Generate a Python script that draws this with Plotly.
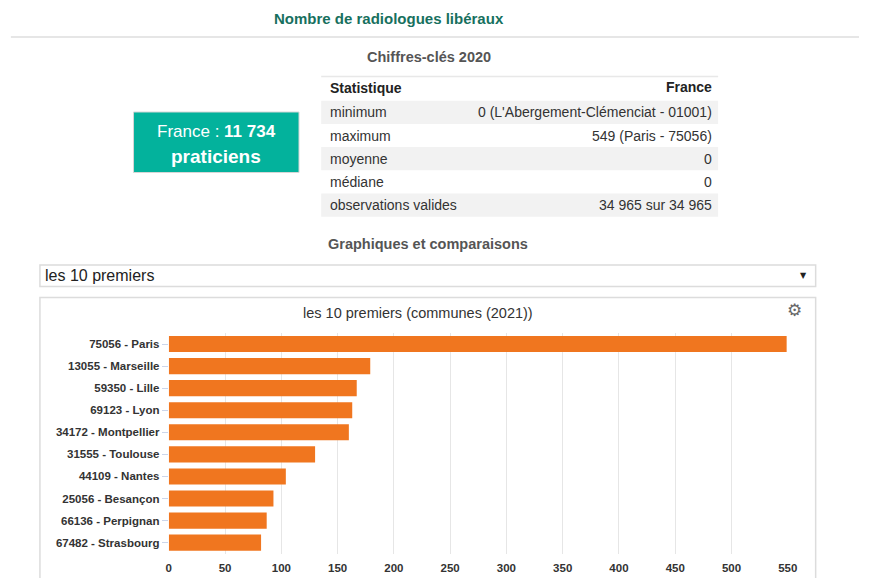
import plotly.graph_objects as go

W, H = 869, 578

# ---- data ----
communes = ["75056 - Paris", "13055 - Marseille", "59350 - Lille", "69123 - Lyon",
            "34172 - Montpellier", "31555 - Toulouse", "44109 - Nantes",
            "25056 - Besançon", "66136 - Perpignan", "67482 - Strasbourg"]
praticiens = [549, 179, 167, 163, 160, 130, 104, 93, 87, 82]

stat_labels = ["minimum", "maximum", "moyenne", "médiane", "observations valides"]
stat_values = ["0 (L'Abergement-Clémenciat - 01001)", "549 (Paris - 75056)", "0", "0",
               "34 965 sur 34 965"]
x_ticks = [0, 50, 100, 150, 200, 250, 300, 350, 400, 450, 500, 550]

FONT = "Liberation Sans, Arial, sans-serif"


def px(x):
    return x / W


def py(y):
    return 1 - y / H


fig = go.Figure()
fig.add_trace(go.Bar(
    x=praticiens, y=communes, orientation="h",
    marker=dict(color="#F0761F", line=dict(width=0)),
    width=0.73, hoverinfo="x+y",
))

shapes = []
annotations = []


def rect(x0, y0, x1, y1, fill=None, line_color=None, lw=0):
    shapes.append(dict(type="rect", xref="paper", yref="paper",
                       x0=px(x0), x1=px(x1), y0=py(y1), y1=py(y0),
                       fillcolor=fill if fill else "rgba(0,0,0,0)",
                       line=dict(color=line_color if line_color else "rgba(0,0,0,0)", width=lw),
                       layer="below"))


def text(x, y, s, size=13, color="#333", xanchor="center", bold=False, family=FONT):
    if bold:
        s = "<b>" + s + "</b>"
    annotations.append(dict(xref="paper", yref="paper", x=px(x), y=py(y), text=s,
                            showarrow=False, xanchor=xanchor, yanchor="middle",
                            font=dict(size=size, color=color, family=family)))


# header
text(392, 18, "Nombre de radiologues libéraux", size=15, color="#17705e", bold=True)
shapes.append(dict(type="line", xref="paper", yref="paper", x0=px(8), x1=px(869),
                   y0=py(37), y1=py(37), line=dict(color="#e6e6e6", width=2)))
text(432, 57, "Chiffres-clés 2020", size=14.5, color="#555", bold=True)

# green box
rect(132.5, 112, 300.5, 172.5, fill="#03b29c", line_color="#d6d6d6", lw=1)
text(216.5, 131, "France : <b>11 734</b>", size=17, color="white")
text(216.5, 156, "praticiens", size=19, color="white", bold=True)

# table
TL, TR = 323, 726
shapes.append(dict(type="line", xref="paper", yref="paper", x0=px(TL), x1=px(TR),
                   y0=py(76.5), y1=py(76.5), line=dict(color="#e8e8e8", width=1.5)))
text(330, 88, "Statistique", size=14, color="#222", xanchor="left", bold=True)
text(722, 87, "France", size=14, color="#222", xanchor="right", bold=True)
row_top = 100.7
row_h = 23.2
for i, (lab, val) in enumerate(zip(stat_labels, stat_values)):
    y0 = row_top + i * row_h
    if i % 2 == 0:
        rect(TL, y0, TR, y0 + row_h, fill="#f2f2f2")
    text(330, y0 + row_h / 2, lab, size=14, color="#333", xanchor="left")
    text(722, y0 + row_h / 2, val, size=14, color="#333", xanchor="right")

text(431, 244, "Graphiques et comparaisons", size=14.5, color="#555", bold=True)

# dropdown
rect(37.5, 265, 825, 286.5, fill="white", line_color="#dcdcdc", lw=1.5)
text(41, 275.5, "les 10 premiers", size=16, color="#222", xanchor="left")
text(813, 275, "▼", size=8, color="#222", family="DejaVu Sans")

# chart box
rect(37.5, 297.5, 825, 590, fill="white", line_color="#dcdcdc", lw=1.5)
text(421, 313, "les 10 premiers (communes (2021))", size=14.5, color="#333")
text(804, 310, "⚙", size=17, color="#666", family="DejaVu Sans")

plot_l, plot_r = 168.3, 796.7
plot_t, plot_b = 333, 553.7

fig.update_layout(
    width=W, height=H,
    margin=dict(l=0, r=0, t=0, b=0),
    paper_bgcolor="white", plot_bgcolor="rgba(0,0,0,0)",
    showlegend=False,
    shapes=shapes, annotations=annotations,
    font=dict(family=FONT),
    xaxis=dict(domain=[px(plot_l), px(plot_r)], range=[0, 550],
               tickvals=x_ticks, showgrid=True, gridcolor="#e6e6e6", gridwidth=1,
               zeroline=False, showline=False, ticks="outside", ticklen=3,
               tickcolor="rgba(0,0,0,0)",
               tickfont=dict(size=11.5, color="#333", family=FONT, weight="bold"),
               fixedrange=True),
    yaxis=dict(domain=[py(plot_b), py(plot_t)], autorange="reversed",
               type="category", showgrid=False, zeroline=False, showline=False,
               ticks="outside", ticklen=6, tickcolor="#ccd6eb",
               tickfont=dict(size=11.5, color="#333", family=FONT, weight="bold"),
               fixedrange=True),
    bargap=0.27,
)

fig.write_html(
    "out.html", config={"displayModeBar": False},
    post_script="document.body.style.margin='0';document.body.style.overflow='hidden';"
                "document.documentElement.style.overflow='hidden';")
